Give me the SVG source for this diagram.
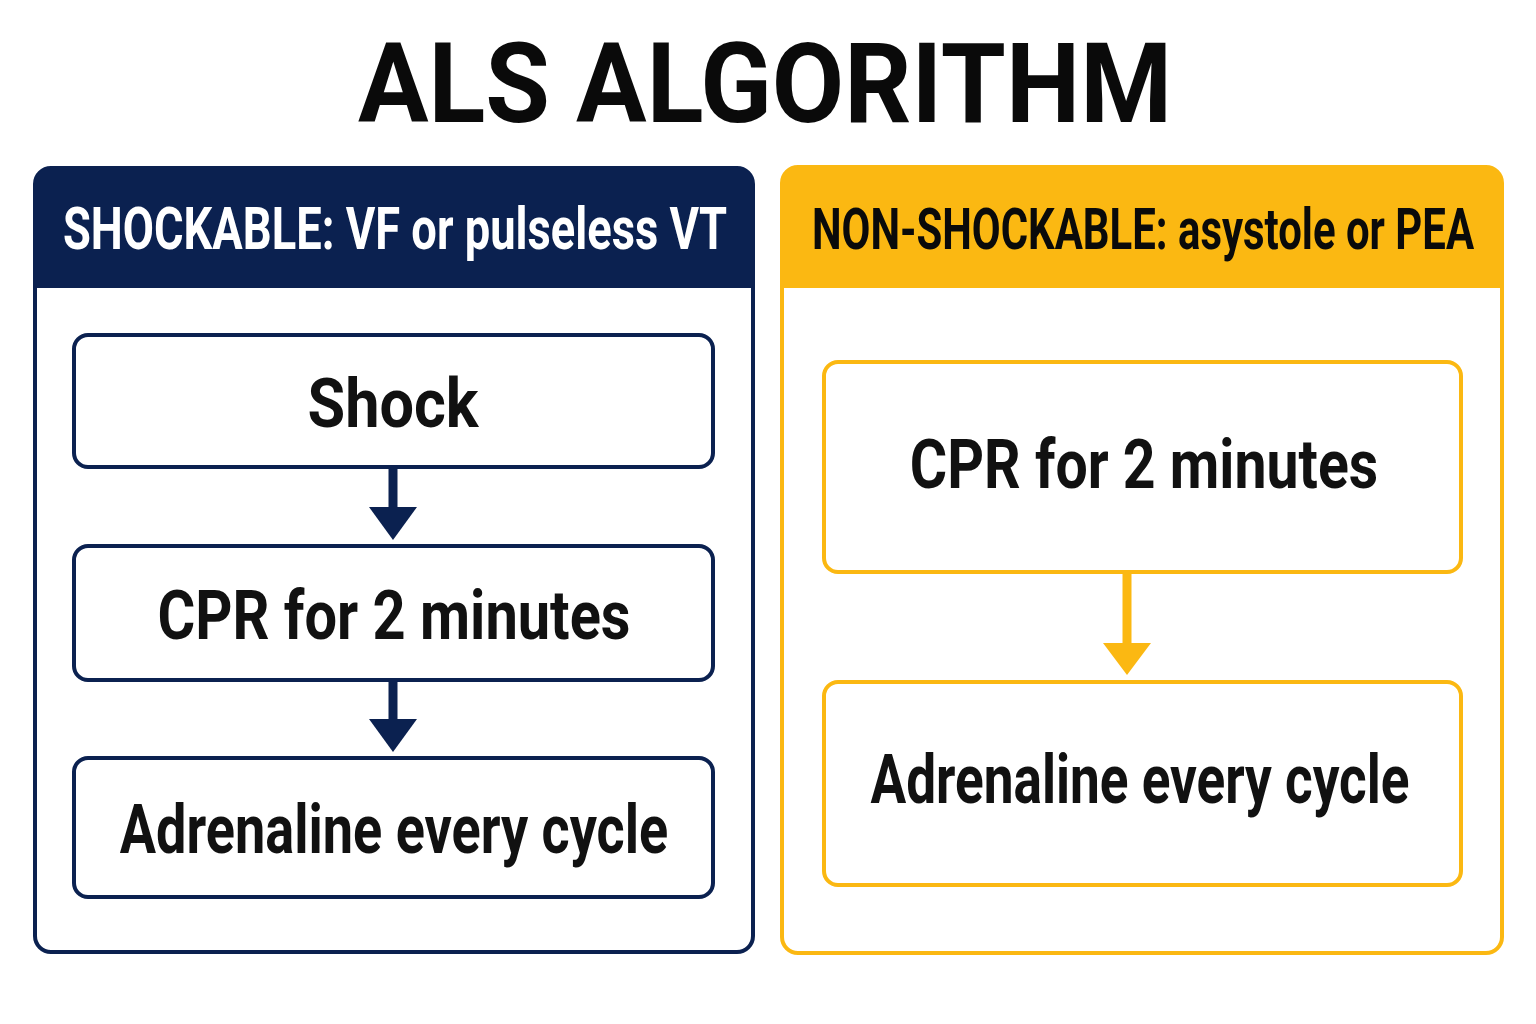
<svg xmlns="http://www.w3.org/2000/svg" width="1536" height="1024" viewBox="0 0 1536 1024">
<defs>
<style>
.t{font-family:Roboto,"Liberation Sans",sans-serif;font-weight:bold;text-anchor:middle;}
.navy{stroke:#0b2150;fill:#fff;stroke-width:4;}
.gold{stroke:#fbb812;fill:#fff;stroke-width:4;}
.lbl{font-family:Roboto,"Liberation Sans",sans-serif;font-weight:bold;font-size:68px;fill:#111;text-anchor:middle;}
</style>
</defs>
<rect width="1536" height="1024" fill="#fff"/>
<text class="t" transform="translate(765 122) scale(0.83 1)" x="0" y="0" font-size="112" fill="#0a0a0a" textLength="981" lengthAdjust="spacingAndGlyphs">ALS ALGORITHM</text>

<g id="panel-shockable">
<rect class="navy" x="35" y="168" width="718" height="784" rx="16"/>
<path d="M35 288 V184 Q35 168 51 168 H737 Q753 168 753 184 V288 Z" fill="#0b2150"/>
<text class="t" transform="translate(395 249) scale(0.76 1)" x="0" y="0" font-size="60" fill="#fff" textLength="874" lengthAdjust="spacingAndGlyphs">SHOCKABLE: VF or pulseless VT</text>
</g>

<g id="panel-nonshockable">
<rect class="gold" x="782" y="167" width="720" height="786" rx="16"/>
<path d="M782 288 V183 Q782 167 798 167 H1486 Q1502 167 1502 183 V288 Z" fill="#fbb812"/>
<text class="t" transform="translate(1143 249) scale(0.73 1)" x="0" y="0" font-size="58" fill="#0a0a0a" textLength="907" lengthAdjust="spacingAndGlyphs">NON-SHOCKABLE: asystole or PEA</text>
</g>

<g id="node-shock">
<rect class="navy" x="74" y="335" width="639" height="132" rx="14"/>
<text class="lbl" transform="translate(393 427) scale(0.91 1)" x="0" y="0" textLength="188" lengthAdjust="spacingAndGlyphs">Shock</text>
</g>
<g id="node-cpr-left">
<rect class="navy" x="74" y="546" width="639" height="134" rx="14"/>
<text class="lbl" transform="translate(394 639) scale(0.86 1)" x="0" y="0" textLength="550" lengthAdjust="spacingAndGlyphs">CPR for 2 minutes</text>
</g>
<g id="node-adrenaline-left">
<rect class="navy" x="74" y="758" width="639" height="139" rx="14"/>
<text class="lbl" transform="translate(394 853) scale(0.81 1)" x="0" y="0" textLength="677" lengthAdjust="spacingAndGlyphs">Adrenaline every cycle</text>
</g>

<g id="node-cpr-right">
<rect class="gold" x="824" y="362" width="637" height="210" rx="14"/>
<text class="lbl" transform="translate(1144 488) scale(0.85 1)" x="0" y="0" textLength="551" lengthAdjust="spacingAndGlyphs">CPR for 2 minutes</text>
</g>
<g id="node-adrenaline-right">
<rect class="gold" x="824" y="682" width="637" height="203" rx="14"/>
<text class="lbl" transform="translate(1140 803) scale(0.795 1)" x="0" y="0" textLength="678" lengthAdjust="spacingAndGlyphs">Adrenaline every cycle</text>
</g>

<g id="connectors">
<line x1="393" y1="467" x2="393" y2="508" stroke="#0b2150" stroke-width="9"/>
<polygon points="369,507 417,507 393,540" fill="#0b2150"/>
<line x1="393" y1="680" x2="393" y2="720" stroke="#0b2150" stroke-width="9"/>
<polygon points="369,719 417,719 393,752" fill="#0b2150"/>
<line x1="1127" y1="572" x2="1127" y2="644" stroke="#fbb812" stroke-width="9"/>
<polygon points="1103,643 1151,643 1127,675" fill="#fbb812"/>
</g>
</svg>
